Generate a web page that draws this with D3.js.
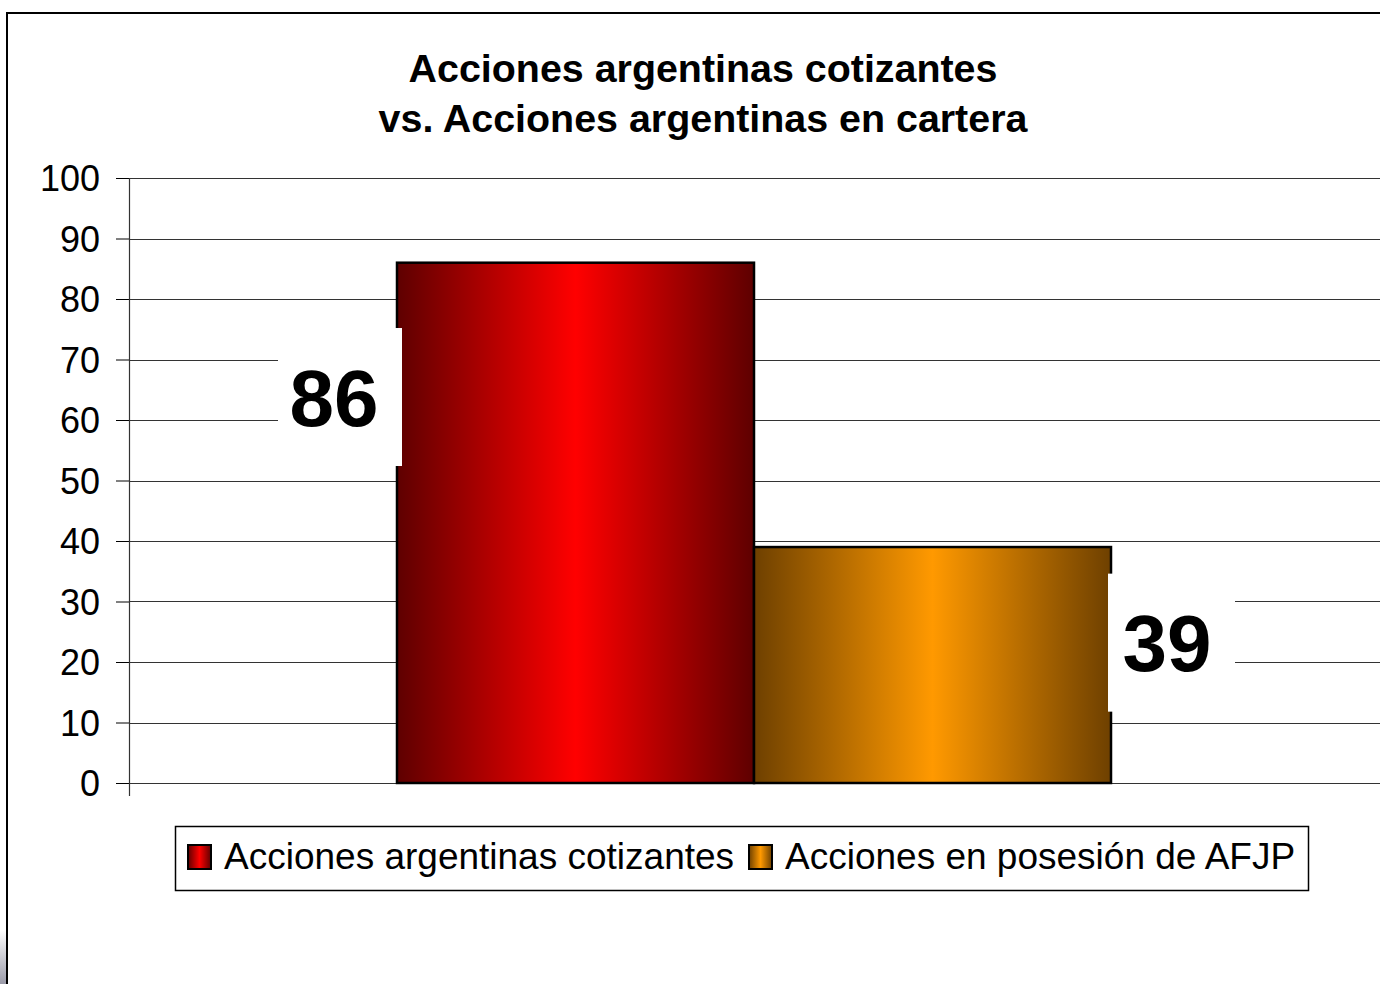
<!DOCTYPE html>
<meta charset="utf-8">
<script src="https://d3js.org/d3.v7.min.js"></script>
<style>
    body { margin: 0; background: #fff; }
    text { font-family: "Liberation Sans", Arial, sans-serif; }
</style>
<div id="chart"></div>
<script>
    // data
    var series = ["Acciones argentinas cotizantes", "Acciones en posesión de AFJP"];
    var values = [86, 39];
    var labelAt = [63.8, 23.2];   // where the value labels sit, in axis units
    var yTicks = [0, 10, 20, 30, 40, 50, 60, 70, 80, 90, 100];
    var titleLines = ["Acciones argentinas cotizantes", "vs. Acciones argentinas en cartera"];
    var colors = [
        {dark: "#5e0000", mid: "#ff0000"},
        {dark: "#6e4000", mid: "#ff9900"}
    ];

    var W = 1380, H = 984;
    var plot = {left: 129, right: 1379, top: 178, bottom: 783};

    var svg = d3.select("#chart").append("svg")
        .attr("width", W).attr("height", H);

    // gradients for bars
    var defs = svg.append("defs");
    colors.forEach(function(c, i) {
        var g = defs.append("linearGradient").attr("id", "grad" + i)
            .attr("x1", "0%").attr("x2", "100%").attr("y1", "0%").attr("y2", "0%");
        g.append("stop").attr("offset", "0%").attr("stop-color", c.dark);
        g.append("stop").attr("offset", "50%").attr("stop-color", c.mid);
        g.append("stop").attr("offset", "100%").attr("stop-color", c.dark);
    });
    var shadow = defs.append("linearGradient").attr("id", "shadow")
        .attr("x1", "0%").attr("x2", "0%").attr("y1", "0%").attr("y2", "100%");
    shadow.append("stop").attr("offset", "0%").attr("stop-color", "#fff");
    shadow.append("stop").attr("offset", "100%").attr("stop-color", "#9a9aa8");

    // outer frame
    svg.append("rect").attr("x", 0).attr("y", 930).attr("width", 7).attr("height", 54)
        .attr("fill", "url(#shadow)");
    svg.append("rect").attr("x", 7).attr("y", 13).attr("width", W).attr("height", H)
        .attr("fill", "#fff").attr("stroke", "#000").attr("stroke-width", 2);

    // title
    svg.append("text")
        .attr("x", 703).attr("y", 82)
        .attr("text-anchor", "middle")
        .style("font-size", "39.4px").style("font-weight", "bold")
        .selectAll("tspan").data(titleLines).enter().append("tspan")
        .attr("x", 703).attr("dy", function(d, i) { return i ? 50 : 0; })
        .text(function(d) { return d; });

    var y = d3.scaleLinear().domain([0, 100]).range([plot.bottom, plot.top]);
    var x = d3.scaleBand().domain(series).range([397, 1111]).padding(0);

    // gridlines + y axis
    var yAxis = svg.append("g")
        .attr("transform", "translate(" + plot.left + ",0)")
        .call(d3.axisLeft(y).tickValues(yTicks).tickSize(13).tickPadding(16)
            .tickFormat(d3.format("d")));
    yAxis.select(".domain").remove();
    yAxis.selectAll("text").style("font-size", "36px").attr("fill", "#000").attr("dy", "0.36em");
    yAxis.selectAll(".tick line").attr("stroke", "#000");

    svg.append("g").selectAll("line").data(yTicks).enter().append("line")
        .attr("x1", plot.left).attr("x2", W)
        .attr("y1", function(d) { return Math.round(y(d)) + 0.5; })
        .attr("y2", function(d) { return Math.round(y(d)) + 0.5; })
        .attr("stroke", "#333").attr("stroke-width", 1.2);

    svg.append("line")
        .attr("x1", plot.left + 0.5).attr("x2", plot.left + 0.5)
        .attr("y1", plot.top).attr("y2", plot.bottom + 13)
        .attr("stroke", "#333").attr("stroke-width", 1.2);

    // bars
    svg.append("g").selectAll("rect").data(values).enter().append("rect")
        .attr("x", function(d, i) { return x(series[i]); })
        .attr("y", function(d) { return y(d); })
        .attr("width", x.bandwidth())
        .attr("height", function(d) { return y(0) - y(d); })
        .attr("fill", function(d, i) { return "url(#grad" + i + ")"; })
        .attr("stroke", "#000").attr("stroke-width", 2.5);

    // value labels with white boxes
    var labelPos = [
        {cx: 334, left: 278, right: 402},
        {cx: 1167, left: 1108, right: 1235}
    ];
    var lbl = svg.append("g").selectAll("g").data(values).enter().append("g");
    lbl.append("rect")
        .attr("x", function(d, i) { return labelPos[i].left; })
        .attr("y", function(d, i) { return y(labelAt[i]) - 69; })
        .attr("width", function(d, i) { return labelPos[i].right - labelPos[i].left; })
        .attr("height", 138)
        .attr("fill", "#fff");
    lbl.append("text")
        .attr("x", function(d, i) { return labelPos[i].cx; })
        .attr("y", function(d, i) { return y(labelAt[i]); })
        .attr("dy", "0.36em")
        .attr("text-anchor", "middle")
        .style("font-size", "80px").style("font-weight", "bold")
        .text(function(d) { return d; });

    // legend
    var legend = svg.append("g");
    legend.append("rect").attr("x", 175.5).attr("y", 826.5).attr("width", 1133).attr("height", 64)
        .attr("fill", "#fff").attr("stroke", "#000").attr("stroke-width", 1.5);
    var legX = [188, 749];
    var items = legend.selectAll("g.item").data(series).enter().append("g").attr("class", "item")
        .attr("transform", function(d, i) { return "translate(" + legX[i] + ",845)"; });
    items.append("rect").attr("width", 23).attr("height", 24)
        .attr("fill", function(d, i) { return "url(#grad" + i + ")"; })
        .attr("stroke", "#000").attr("stroke-width", 2);
    items.append("text").attr("x", 36).attr("y", 24)
        .style("font-size", "37px")
        .text(function(d) { return d; });
</script>
